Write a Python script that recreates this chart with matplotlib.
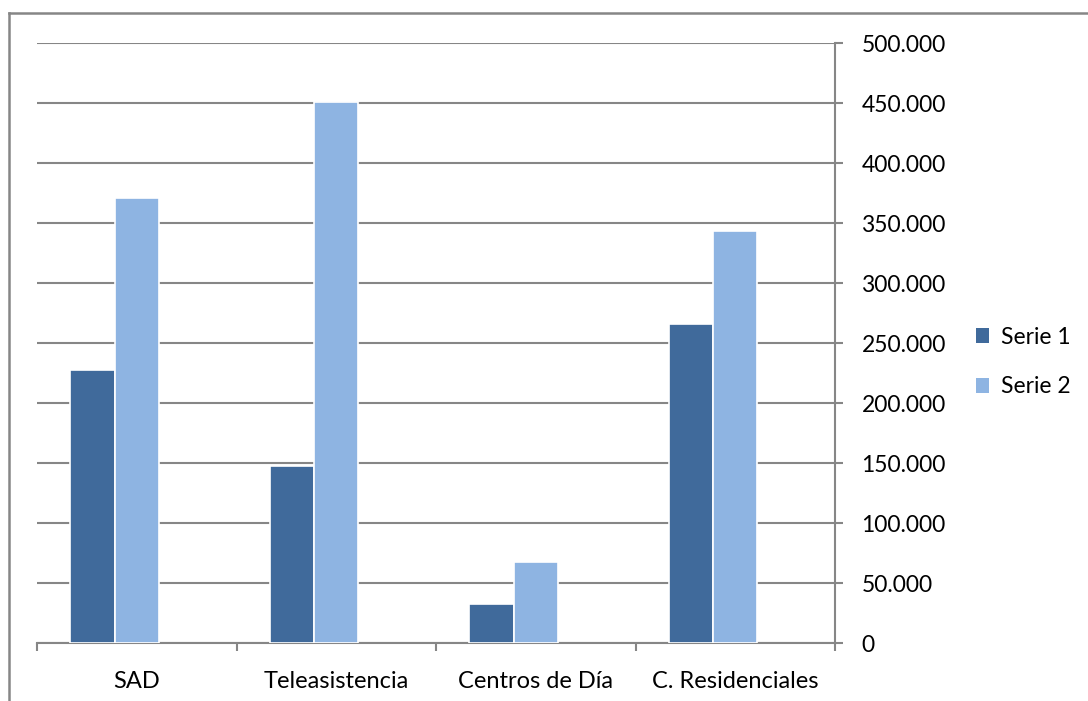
import matplotlib
matplotlib.use("Agg")
import matplotlib.pyplot as plt
import numpy as np
from matplotlib.lines import Line2D
from matplotlib.patches import Patch
from matplotlib.ticker import FuncFormatter

categorias = ["SAD", "Teleasistencia", "Centros de Día", "C. Residenciales"]
serie1 = [227500, 147500, 32500, 265500]
serie2 = [371000, 451000, 67500, 343000]
nombres = ["Serie 1", "Serie 2"]
yticks = [0, 50000, 100000, 150000, 200000, 250000, 300000, 350000, 400000, 450000, 500000]

color1 = "#406a9b"
color2 = "#8eb4e2"
gris = "#868686"

plt.rcParams['font.family'] = ['Lato', 'DejaVu Sans']

fig = plt.figure(figsize=(10.88, 7.01), dpi=100, facecolor='w')
ax = fig.add_axes([37/1088, 58/701, 798/1088, 600/701])

x = np.arange(len(categorias))
w = 1/4.5
ax.bar(x - w, serie1, width=w, color=color1, edgecolor='white', linewidth=1.2, zorder=3)
ax.bar(x, serie2, width=w, color=color2, edgecolor='white', linewidth=1.2, zorder=3)

ax.set_xlim(-0.5, len(categorias) - 0.5)
ax.set_ylim(0, 500000)

# eje y a la derecha, estilo hoja de cálculo
ax.yaxis.tick_right()
ax.set_yticks(yticks)
ax.yaxis.set_major_formatter(FuncFormatter(lambda v, p: "0" if v == 0 else "{:,.0f}".format(v).replace(",", ".")))
ax.tick_params(axis='y', direction='out', length=6, width=1.5, color=gris, pad=13, labelsize=16.5)
ax.grid(axis='y', color=gris, linewidth=1.5, zorder=0)

ax.set_xticks(x)
ax.set_xticklabels(categorias)
ax.set_xticks(np.arange(-0.5, len(categorias)), minor=True)
ax.tick_params(axis='x', which='major', length=0, pad=20, labelsize=17)
ax.tick_params(axis='x', which='minor', direction='out', length=6, width=1.5, color=gris)

for s in ['top', 'left']:
    ax.spines[s].set_visible(False)
for s in ['bottom', 'right']:
    ax.spines[s].set_color(gris)
    ax.spines[s].set_linewidth(1.5)

handles = [Patch(facecolor=color1), Patch(facecolor=color2)]
fig.legend(handles, nombres, loc='center left', bbox_to_anchor=(955/1088, 1 - 362/701),
           frameon=False, fontsize=16.5, handlelength=0.6, handleheight=0.6,
           handletextpad=0.5, labelspacing=1.25)

# marco del área del gráfico
fig.add_artist(Line2D([9/1088, 9/1088], [0, 1 - 13/701], transform=fig.transFigure, color=gris, linewidth=1.8))
fig.add_artist(Line2D([9/1088, 1], [1 - 13/701, 1 - 13/701], transform=fig.transFigure, color=gris, linewidth=1.8))

plt.savefig("out.png", dpi=100)
